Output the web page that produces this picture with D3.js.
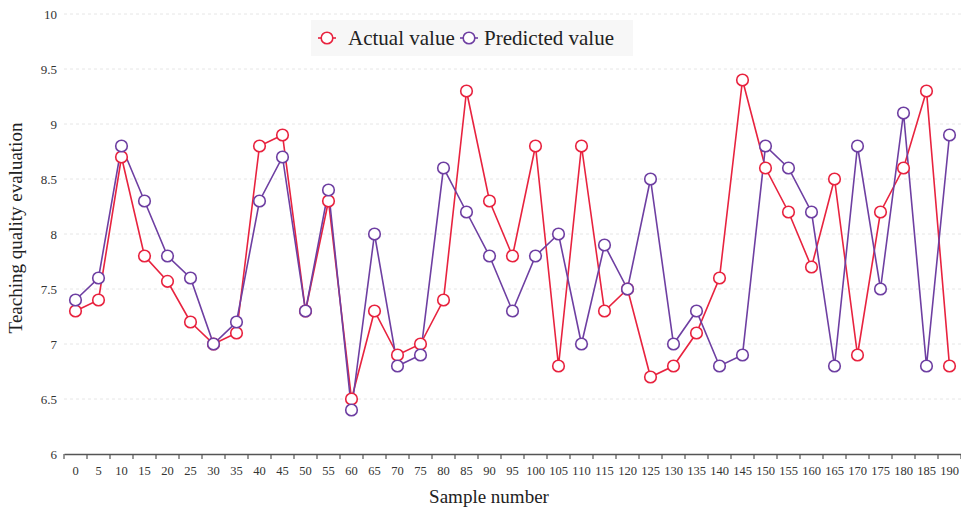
<!DOCTYPE html>
<html>
<head>
<meta charset="utf-8">
<script src="https://cdn.jsdelivr.net/npm/d3@7/dist/d3.min.js"></script>
<style>
  body { margin: 0; background: #fff; }
  svg text { font-family: "Liberation Serif", "Times New Roman", serif; }
</style>
</head>
<body>
<script>
let width = 961;
let height = 514;

let samples = ["0","5","10","15","20","25","30","35","40","45","50","55","60","65","70","75","80","85","90","95",
  "100","105","110","115","120","125","130","135","140","145","150","155","160","165","170","175","180","185","190"];
let actual = [7.3,7.4,8.7,7.8,7.57,7.2,7.0,7.1,8.8,8.9,7.3,8.3,6.5,7.3,6.9,7.0,7.4,9.3,8.3,7.8,
  8.8,6.8,8.8,7.3,7.5,6.7,6.8,7.1,7.6,9.4,8.6,8.2,7.7,8.5,6.9,8.2,8.6,9.3,6.8];
let predicted = [7.4,7.6,8.8,8.3,7.8,7.6,7.0,7.2,8.3,8.7,7.3,8.4,6.4,8.0,6.8,6.9,8.6,8.2,7.8,7.3,
  7.8,8.0,7.0,7.9,7.5,8.5,7.0,7.3,6.8,6.9,8.8,8.6,8.2,6.8,8.8,7.5,9.1,6.8,8.9];
let yTicks = [6,6.5,7,7.5,8,8.5,9,9.5,10];
let seriesNames = ["Actual value","Predicted value"];
let colors = ["#e8233f","#6e3fa2"];

let x = d3.scaleBand(samples,[64,961]).padding(0);
let y = d3.scaleLinear([6,10],[454,14]);

let svg = d3.select("body").append("svg")
  .attr("width",width)
  .attr("height",height);

// grid
svg.append("g")
  .selectAll("line")
  .data(yTicks.slice(1))
  .enter()
  .append("line")
  .attr("x1",64).attr("x2",961)
  .attr("y1",d => y(d)).attr("y2",d => y(d))
  .attr("stroke","#e6e6e6")
  .attr("stroke-dasharray","3,3");

// y labels
svg.append("g")
  .selectAll("text")
  .data(yTicks)
  .enter()
  .append("text")
  .attr("x",57)
  .attr("y",d => y(d))
  .attr("dy","0.35em")
  .attr("text-anchor","end")
  .attr("font-size",13)
  .attr("fill","#333")
  .text(d => d);

// x axis
let xAxis = svg.append("g")
  .attr("transform","translate(0," + y(6) + ")")
  .call(d3.axisBottom(x).tickSizeOuter(0).tickSize(0).tickPadding(12));
xAxis.select(".domain").attr("stroke","#555").attr("stroke-width",1.5);
xAxis.selectAll("text").attr("font-size",12.5).attr("fill","#333");
let bounds = samples.map(s => x(s)).concat([x(samples[samples.length-1]) + x.bandwidth()]);
xAxis.selectAll(".bnd")
  .data(bounds)
  .enter()
  .append("line")
  .attr("class","bnd")
  .attr("x1",d => d).attr("x2",d => d)
  .attr("y1",0).attr("y2",5)
  .attr("stroke","#555")
  .attr("stroke-width",1.2);

// lines and points
let cx = d => x(d) + x.bandwidth()/2;
[actual,predicted].forEach((vals,k) => {
  let pts = samples.map((s,i) => [cx(s), y(vals[i])]);
  svg.append("path")
    .attr("d",d3.line()(pts))
    .attr("fill","none")
    .attr("stroke",colors[k])
    .attr("stroke-width",1.6);
});
[actual,predicted].forEach((vals,k) => {
  svg.append("g")
    .selectAll("circle")
    .data(vals)
    .enter()
    .append("circle")
    .attr("cx",(d,i) => cx(samples[i]))
    .attr("cy",d => y(d))
    .attr("r",5.8)
    .attr("fill","#fff")
    .attr("stroke",colors[k])
    .attr("stroke-width",1.6);
});

// axis titles
svg.append("text")
  .attr("x",489).attr("y",503)
  .attr("text-anchor","middle")
  .attr("font-size",19)
  .attr("fill","#222")
  .text("Sample number");
svg.append("text")
  .attr("transform","translate(22,228) rotate(-90)")
  .attr("text-anchor","middle")
  .attr("font-size",19)
  .attr("fill","#222")
  .text("Teaching quality evaluation");

// legend
let lg = svg.append("g");
lg.append("rect")
  .attr("x",311).attr("y",20).attr("width",322).attr("height",36)
  .attr("fill","#f7f7f7");
let legendX = [318,460];
let legendText = [348,484];
seriesNames.forEach((name,k) => {
  lg.append("line")
    .attr("x1",legendX[k]).attr("x2",legendX[k] + 18)
    .attr("y1",38).attr("y2",38)
    .attr("stroke",colors[k]).attr("stroke-width",1.6);
  lg.append("circle")
    .attr("cx",legendX[k] + 9).attr("cy",38).attr("r",5.8)
    .attr("fill","#fff").attr("stroke",colors[k]).attr("stroke-width",1.6);
  lg.append("text")
    .attr("x",legendText[k])
    .attr("y",38)
    .attr("dy","0.35em")
    .attr("font-size",21)
    .attr("fill","#222")
    .text(name);
});
</script>
</body>
</html>
